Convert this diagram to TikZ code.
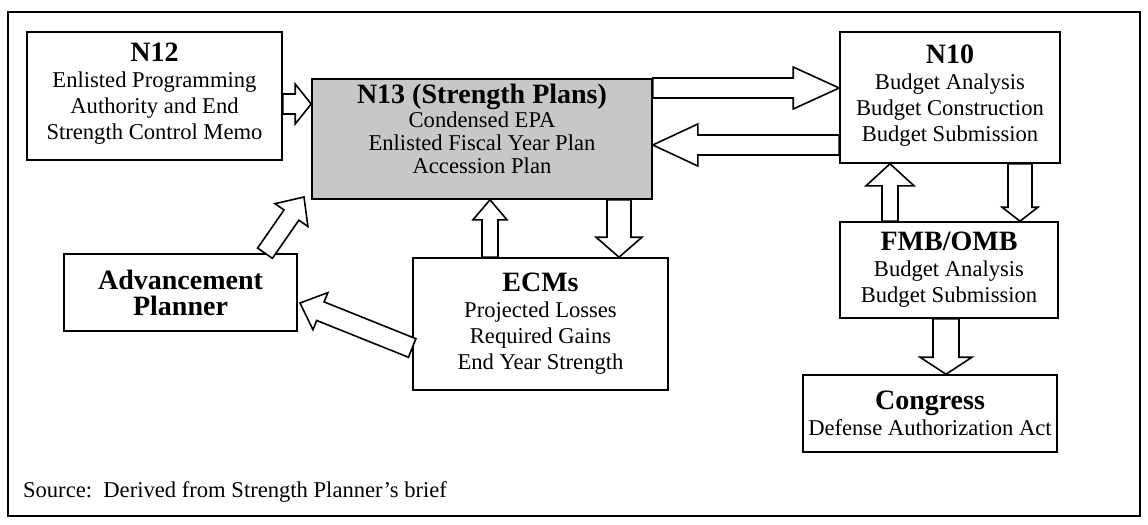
\documentclass[tikz,border=0pt]{standalone}
\usepackage{fontspec}
\setmainfont{Liberation Serif}
\usetikzlibrary{calc,positioning}

\tikzset{
  box/.style={draw, line width=0.8pt, align=center, inner sep=2pt,
    font=\fontsize{11.3}{13}\selectfont},
  fat/.style={draw, line width=0.8pt, fill=white, line join=miter},
}
\newcommand{\hd}[1]{{\fontsize{14}{14}\selectfont\bfseries #1}}
% extra depth below the last line, to lift the text in its box
\newcommand{\lift}[1]{\rule[-#1]{0pt}{#1}}
% block arrow: from, to, shaft half width, head half width, head length
\newcommand{\fatarrow}[5]{%
  \coordinate (fa) at ($(#2)!#5!(#1)$);
  \draw[fat] ($(#1)!#3!90:(#2)$) -- ($(fa)!#3!90:(#2)$) -- ($(fa)!#4!90:(#2)$)
    -- (#2) -- ($(fa)!#4!-90:(#2)$) -- ($(fa)!#3!-90:(#2)$)
    -- ($(#1)!#3!-90:(#2)$) -- cycle;
}

\begin{document}
\begin{tikzpicture}[x=0.5pt,y=-0.5pt]
\useasboundingbox (0,0) rectangle (1148,525);

\draw [line width=0.8pt] (8,12) rectangle (1140,516);

\node [box, minimum width=127.5pt, minimum height=64pt] (n12) at (154.5,96)
  {\hd{N12}\\ Enlisted Programming\\ Authority and End\\ Strength Control Memo\lift{5pt}};
\node [box, fill=black!22, minimum width=170pt, minimum height=60pt,
  font=\fontsize{11.3}{11.6}\selectfont] (n13) at (482,139)
  {\hd{N13 (Strength Plans)}\\ Condensed EPA\\ Enlisted Fiscal Year Plan\\ Accession Plan\lift{10pt}};
\node [box, minimum width=110pt, minimum height=65.5pt] (n10) at (950,97.5)
  {\hd{N10}\\ Budget Analysis\\ Budget Construction\\ Budget Submission\lift{4pt}};
\node [box, minimum width=109pt, minimum height=48pt] (fmb) at (949,270)
  {\hd{FMB/OMB}\\ Budget Analysis\\ Budget Submission};
\node [box, minimum width=127pt, minimum height=38.5pt] (cong) at (930,413.5)
  {\hd{Congress}\\ Defense Authorization Act};
\node [box, minimum width=127.5pt, minimum height=66pt] (ecms) at (540.5,324)
  {\hd{ECMs}\\ Projected Losses\\ Required Gains\\ End Year Strength};
\node [box, minimum width=116.5pt, minimum height=38.5pt] (adv) at (180.5,292.5)
  {\hd{Advancement}\\ \hd{Planner}};

\node [anchor=west, font=\fontsize{11.3}{12}\selectfont] (src) at (16,492)
  {Source:\ \ Derived from Strength Planner’s brief};

% arrows
\coordinate (a1) at (n12.east |- 0,104);
\coordinate (b1) at (n13.west |- 0,104);
\fatarrow{a1}{b1}{5pt}{10pt}{8pt}

\coordinate (a2) at (n13.east |- 0,88);
\coordinate (b2) at (n10.west |- 0,88);
\fatarrow{a2}{b2}{5pt}{10.5pt}{23pt}

\coordinate (a3) at (n10.west |- 0,145);
\coordinate (b3) at (n13.east |- 0,145);
\fatarrow{a3}{b3}{5pt}{10.5pt}{22.5pt}

\coordinate (a4) at (619,0 |- n13.south);
\coordinate (b4) at (619,0 |- ecms.north);
\fatarrow{a4}{b4}{6pt}{11.5pt}{10pt}

\coordinate (a5) at (490,0 |- ecms.north);
\coordinate (b5) at (490,0 |- n13.south);
\fatarrow{a5}{b5}{4pt}{8.5pt}{10pt}

\coordinate (a6) at (265,0 |- adv.north);
\coordinate (b6) at (304,197);
\fatarrow{a6}{b6}{4.5pt}{10pt}{11pt}

\coordinate (a7) at (ecms.west |- 0,348);
\coordinate (b7) at (300,303);
\fatarrow{a7}{b7}{5pt}{10pt}{11pt}

\coordinate (a8) at (890,0 |- fmb.north);
\coordinate (b8) at (890,0 |- n10.south);
\fatarrow{a8}{b8}{4pt}{12pt}{11pt}

\coordinate (a9) at (1020,0 |- n10.south);
\coordinate (b9) at (1020,0 |- fmb.north);
\fatarrow{a9}{b9}{6pt}{9pt}{7pt}

\coordinate (a10) at (946,0 |- fmb.south);
\coordinate (b10) at (946,0 |- cong.north);
\fatarrow{a10}{b10}{6.5pt}{13pt}{8.5pt}
\end{tikzpicture}
\end{document}
